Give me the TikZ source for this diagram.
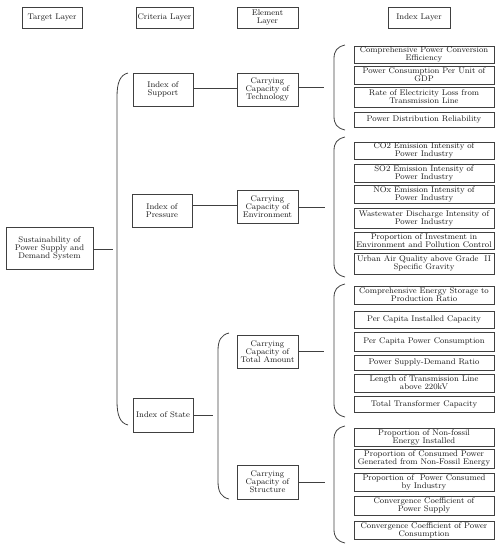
\documentclass[tikz,border=0pt]{standalone}
\usepackage{tikz}

\tikzset{
  box/.style={draw=black!75, line width=0.7pt, align=center, inner sep=0.5pt,
    font=\fontsize{8.2}{8}\selectfont, text=black!90},
  idx/.style={box, minimum width=140pt},
  layer/.style={box, minimum height=21pt},
  unit/.style={box, minimum width=61pt, minimum height=33pt},
  link/.style={draw=black!75, line width=0.8pt},
}
% bracket: x, top, bottom, depth of the curved ends
\newcommand\bracket[4]{\draw[link] (#1+11,#2) .. controls (#1+3,#2+2) and (#1,#2+#4*0.4) .. (#1,#2+#4) -- (#1,#3-#4) .. controls (#1,#3-#4*0.4) and (#1+3,#3-2) .. (#1+11,#3);}

\begin{document}
\begin{tikzpicture}[x=1pt,y=-1pt]
\useasboundingbox (0,0) rectangle (502,550);

% Header row
\node (hTarget) at (52,17.5) [layer, minimum width=60pt] {Target Layer};
\node (hCriteria) at (164.5,17.5) [layer, minimum width=57pt] {Criteria Layer};
\node (hElement) at (267.5,17.5) [layer, minimum width=61pt] {Element\\Layer};
\node (hIndex) at (419,17.5) [layer, minimum width=62pt] {Index Layer};

% Target layer
\node (target) at (49.5,248) [box, minimum width=87pt, minimum height=42pt] {Sustainability of\\Power Supply and\\Demand System};

% Criteria layer
\node (support) at (163,89.5) [unit, minimum width=60pt] {Index of\\Support};
\node (pressure) at (162,210.5) [unit, minimum width=60pt] {Index of\\Pressure};
\node (state) at (163,415) [unit, minimum width=60pt, minimum height=34pt] {Index of State};

% Element layer
\node (technology) at (267.5,89.5) [unit] {Carrying\\Capacity of\\Technology};
\node (environment) at (267.5,206.5) [unit] {Carrying\\Capacity of\\Environment};
\node (amount) at (267.5,351.5) [unit] {Carrying\\Capacity of\\Total Amount};
\node (structure) at (267.5,482) [unit, minimum height=34pt] {Carrying\\Capacity of\\Structure};

% Index layer: technology
\node (t1) at (424,54.5) [idx, minimum height=17pt] {Comprehensive Power Conversion\\Efficiency};
\node (t2) at (424,75) [idx, minimum height=18pt] {Power Consumption Per Unit of\\GDP};
\node (t3) at (424,97) [idx, minimum height=20pt] {Rate of Electricity Loss from\\Transmission Line};
\node (t4) at (424,119.5) [idx, minimum height=15pt] {Power Distribution Reliability};

% Index layer: environment
\node (e1) at (424,150.5) [idx, minimum height=17pt] {CO2 Emission Intensity of\\Power Industry};
\node (e2) at (424,173) [idx, minimum height=18pt] {SO2 Emission Intensity of\\Power Industry};
\node (e3) at (424,194) [idx, minimum height=18pt] {NOx Emission Intensity of\\Power Industry};
\node (e4) at (424,218) [idx, minimum height=20pt] {Wastewater Discharge Intensity of\\Power Industry};
\node (e5) at (424,240.5) [idx, minimum height=17pt] {Proportion of Investment in\\Environment and Pollution Control};
\node (e6) at (424,263.5) [idx, minimum height=21pt] {Urban Air Quality above Grade \ \textrm{II}\\Specific Gravity};

% Index layer: total amount
\node (a1) at (424,295) [idx, minimum height=18pt] {Comprehensive Energy Storage to\\Production Ratio};
\node (a2) at (424,319.5) [idx, minimum height=17pt] {Per Capita Installed Capacity};
\node (a3) at (424,341.5) [idx, minimum height=19pt] {Per Capita Power Consumption};
\node (a4) at (424,362.5) [idx, minimum height=15pt] {Power Supply-Demand Ratio};
\node (a5) at (424,383) [idx, minimum height=18pt] {Length of Transmission Line\\above 220kV};
\node (a6) at (424,404) [idx, minimum height=16pt] {Total Transformer Capacity};

% Index layer: structure
\node (s1) at (424,437) [idx, minimum height=18pt] {Proportion of Non-fossil\\Energy Installed};
\node (s2) at (424,458.5) [idx, minimum height=19pt] {Proportion of Consumed Power\\Generated from Non-Fossil Energy};
\node (s3) at (424,482) [idx, minimum height=18pt] {Proportion of \ Power Consumed\\by Industry};
\node (s4) at (424,505.5) [idx, minimum height=19pt] {Convergence Coefficient of\\Power Supply};
\node (s5) at (424,530) [idx, minimum height=18pt] {Convergence Coefficient of Power\\Consumption};

% Brackets
\bracket{117}{73}{425}{24}
\bracket{218}{333}{499}{18}
\bracket{334}{45}{130}{14}
\bracket{334}{137}{277}{14}
\bracket{334}{284}{417}{14}
\bracket{334}{426}{543}{14}

% free ends of the connectors
\coordinate (mainB) at (113,249);
\coordinate (stateB) at (213,415);
\coordinate (techB) at (324,87);
\coordinate (envB) at (325,207);
\coordinate (amountB) at (324,351);
\coordinate (structB) at (325,482);

% Connectors
\draw[link] (target.east |- mainB) -- (mainB);
\draw[link] (support.east |- 0,88) -- (technology.west |- 0,88);
\draw[link] (pressure.east |- 0,205) -- (environment.west |- 0,205);
\draw[link] (state.east) -- (stateB);
\draw[link] (technology.east |- techB) -- (techB);
\draw[link] (environment.east |- envB) -- (envB);
\draw[link] (amount.east |- amountB) -- (amountB);
\draw[link] (structure.east |- structB) -- (structB);

\end{tikzpicture}
\end{document}
